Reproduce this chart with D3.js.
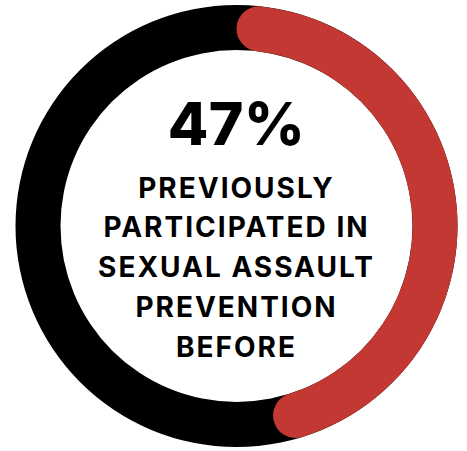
<!DOCTYPE html>
<html>
<head>
<meta charset="utf-8">
<script src="https://cdn.jsdelivr.net/npm/d3@7"></script>
<style>
  html, body { margin: 0; padding: 0; background: #fff; }
  svg { display: block; }
</style>
</head>
<body>
<svg id="chart" width="467" height="451"></svg>
<script>
// Share of respondents, and the caption lines under the figure
const shareValue = [47];
const shareLabel = ["47%"];
const captionLines = ["PREVIOUSLY", "PARTICIPATED IN", "SEXUAL ASSAULT", "PREVENTION", "BEFORE"];

const svg = d3.select("#chart");
const cx = 236.5, cy = 226;
const outerR = 221, innerR = 176;

const g = svg.append("g").attr("transform", `translate(${cx},${cy})`);

// Angle scale: percent -> radians around the ring, starting at 12 o'clock
const angle = d3.scaleLinear().domain([0, 100]).range([0, 2 * Math.PI]);

// Background ring (remainder)
const ring = d3.arc().innerRadius(innerR).outerRadius(outerR);
g.append("path")
  .attr("d", ring({ startAngle: 0, endAngle: 2 * Math.PI }))
  .attr("fill", "#000");

// Highlighted share with rounded ends
const shareArc = d3.arc()
  .innerRadius(innerR)
  .outerRadius(outerR)
  .cornerRadius((outerR - innerR) / 2);
g.append("path")
  .attr("d", shareArc({ startAngle: angle(0), endAngle: angle(shareValue[0]) }))
  .attr("fill", "#c43833");

// Big figure
g.append("text")
  .attr("x", 0)
  .attr("y", 145 - cy)
  .attr("text-anchor", "middle")
  .attr("font-family", "Inter, 'Noto Sans', sans-serif")
  .attr("font-weight", 800)
  .attr("font-size", 59)
  .attr("letter-spacing", "0.5px")
  .attr("fill", "#000")
  .text(shareLabel[0]);

// Caption
const baselines = [198, 237, 277, 317, 357];
g.selectAll("text.caption")
  .data(captionLines)
  .join("text")
  .attr("class", "caption")
  .attr("x", 0)
  .attr("y", (d, i) => baselines[i] - cy)
  .attr("text-anchor", "middle")
  .attr("font-family", "Inter, 'Noto Sans', sans-serif")
  .attr("font-weight", 700)
  .attr("font-size", 28)
  .attr("letter-spacing", "2px")
  .attr("fill", "#000")
  .text(d => d);
</script>
</body>
</html>
